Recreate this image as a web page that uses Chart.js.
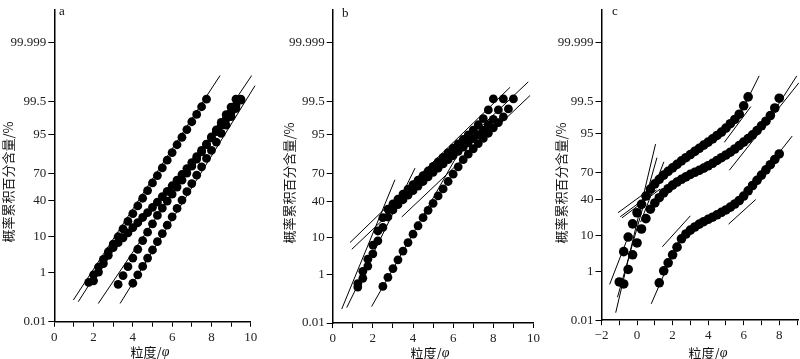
<!DOCTYPE html>
<html>
<head>
<meta charset="utf-8">
<script src="https://cdn.jsdelivr.net/npm/chart.js@4.4.0/dist/chart.umd.min.js"></script>
<style>
  body { margin: 0; background: #fff; width: 800px; height: 359px; position: relative; overflow: hidden; }
  canvas { position: absolute; top: 0; }
</style>
</head>
<body>
<canvas id="ca" width="265" height="359" style="left:0"></canvas>
<canvas id="cb" width="285" height="359" style="left:265px"></canvas>
<canvas id="cc" width="270" height="359" style="left:530px"></canvas>
<script>
// y axis ticks (cumulative %), probability scale
const yTicks = [0.01, 1, 10, 40, 70, 95, 99.5, 99.999];
const yTitle = '概率累积百分含量/%';
const xTitle = ['粒度/', 'φ'];

// panel a
const aPhi1 = [1.75,2,2.25,2.5,2.75,3,3.25,3.5,3.75,4,4.25,4.5,4.75,5,5.25,5.5,5.75,6,6.25,6.5,6.75,7,7.25,7.5,7.75];
const aPct1 = [0.47,0.87,1.55,2.63,4.28,6.68,9.86,14.3,19.8,26.5,34.1,42.5,51.2,59.9,67.7,75.2,81.6,86.8,91.0,94.0,96.2,97.72,98.64,99.24,99.59];
const aPhi2 = [2,2.25,2.5,2.75,3,3.25,3.5,3.75,4,4.25,4.5,4.75,5,5.25,5.5,5.75,6,6.25,6.5,6.75,7,7.25,7.5,7.75,8,8.25,8.5,8.75,9,9.25,9.5];
const aPct2 = [0.54,1.07,1.98,3.44,5.48,7.24,9.36,11.9,15.2,18.7,23.0,27.4,32.7,38.2,44.4,50.4,56.7,62.9,68.8,74.5,79.6,84.1,88.1,91.3,93.8,95.7,97.13,98.11,98.83,99.30,99.59];
const aPhi3 = [3.25,3.5,3.75,4,4.25,4.5,4.75,5,5.25,5.5,5.75,6,6.25,6.5,6.75,7,7.25,7.5,7.75,8,8.25,8.5,8.75,9,9.25];
const aPct3 = [0.40,0.82,1.59,2.87,4.97,8.08,12.3,17.9,24.8,31.9,39.4,47.2,55.2,62.9,70.2,76.7,82.4,87.3,91.1,94.1,96.15,97.61,98.61,99.22,99.59];
const aPhi4 = [4,4.25,4.5,4.75,5,5.25,5.5,5.75,6,6.25,6.5,6.75,7,7.25,7.5,7.75,8,8.25,8.5,8.75,9,9.25,9.5];
const aPct4 = [0.44,0.87,1.63,2.87,4.76,7.64,11.5,16.9,23.6,31.6,40.5,50.0,59.1,68.1,76.1,82.9,88.1,92.2,95.2,97.13,98.4,99.13,99.56];
// fitted segments: [phi1, pct1, phi2, pct2]
const aFits = [
  [0.97, 0.097, 8.44, 99.955],
  [1.22, 0.082, 3.6, 14.7],
  [2.24, 0.069, 10.05, 99.955],
  [3.35, 0.069, 10.22, 99.878]
];

// panel b
const bPhi1 = [1.25,1.5,1.75,2,2.25,2.5,2.75,3,3.25,3.5,3.75,4,4.25,4.5,4.75,5,5.25,5.5,5.75,6,6.25,6.5,6.75,7,7.25,7.5,7.75,8];
const bPct1 = [0.47,1.23,2.87,6.68,13.6,23.6,31.6,37.1,42.5,48.0,53.6,58.7,63.7,68.4,72.9,77.0,80.8,84.1,87.1,89.6,91.6,93.4,94.9,96.2,97.3,98.21,99.06,99.61];
const bPhi2 = [1.25,1.5,1.75,2,2.25,2.5,2.75,3,3.25,3.5,3.75,4,4.25,4.5,4.75,5,5.25,5.5,5.75,6,6.25,6.5,6.75,7,7.25,7.5,7.75,8,8.25,8.5];
const bPct2 = [0.35,0.72,1.79,4.01,8.4,15.9,24.2,30.9,36.3,41.7,46.8,52.0,57.1,62.2,67.0,71.6,75.5,79.1,82.4,85.3,87.9,90.1,92.1,93.7,95.0,96.2,97.3,98.11,99.06,99.61];
const bPhi3 = [2.5,2.75,3,3.25,3.5,3.75,4,4.25,4.5,4.75,5,5.25,5.5,5.75,6,6.25,6.5,6.75,7,7.25,7.5,7.75,8,8.25,8.5,8.75,9];
const bPct3 = [0.37,0.78,1.50,2.74,4.75,7.64,11.7,17.1,23.6,30.5,37.8,46.0,54.0,62.2,69.8,76.7,82.4,86.2,89.3,91.8,93.8,95.4,96.7,97.67,98.42,99.13,99.61];
const bFits = [
  [0.45, 0.045, 3.10, 64.1],
  [0.70, 0.052, 4.10, 75.5],
  [0.86, 7.64, 8.83, 99.861],
  [0.95, 5.26, 9.74, 99.918],
  [3.44, 24.2, 9.83, 99.711],
  [1.94, 0.058, 6.1, 82.9]
];

// panel c
const cPhi1 = [-1,-0.75,-0.5,-0.25,0,0.25,0.5,0.75,1,1.25,1.5,1.75,2,2.25,2.5,2.75,3,3.25,3.5,3.75,4,4.25,4.5,4.75,5,5.25,5.5,5.75,6,6.25];
const cPct1 = [0.44,4.01,9.18,17.1,26.4,34.8,44.0,52.0,57.9,62.9,67.4,71.2,74.5,77.6,80.5,82.9,85.1,87.1,88.9,90.5,91.9,93.2,94.4,95.4,96.4,97.3,97.98,98.61,99.27,99.65];
const cPhi2 = [-0.75,-0.5,-0.25,0,0.25,0.5,0.75,1,1.25,1.5,1.75,2,2.25,2.5,2.75,3,3.25,3.5,3.75,4,4.25,4.5,4.75,5,5.25,5.5,5.75,6,6.25,6.5,6.75,7,7.25,7.5,7.75,8];
const cPct2 = [0.37,1.19,3.29,6.68,13.6,21.2,29.8,36.3,42.1,47.6,52.4,56.4,59.9,62.9,65.5,68.1,70.2,72.2,74.2,76.4,78.5,80.8,82.9,84.8,86.6,88.5,90.3,91.9,93.3,94.6,95.8,96.9,97.72,98.46,99.13,99.61];
const cPhi3 = [1.25,1.5,1.75,2,2.25,2.5,2.75,3,3.25,3.5,3.75,4,4.25,4.5,4.75,5,5.25,5.5,5.75,6,6.25,6.5,6.75,7,7.25,7.5,7.75,8];
const cPct3 = [0.41,1.07,1.92,3.29,5.26,8.38,10.7,12.9,14.9,16.9,18.7,20.6,22.4,24.5,26.8,29.1,31.9,35.2,39.0,44.0,50.0,56.0,61.8,67.4,72.6,77.3,81.6,85.5];
const cFits = [
  [-1.54, 0.357, -0.6, 7.35],
  [-1.2, 0.023, 1.04, 91.0],
  [-1.1, 0.111, 1.12, 82.9],
  [0.2, 18.4, 1.51, 79.7],
  [-1.07, 26.4, 0.75, 52.0],
  [-0.95, 22.7, 1.1, 51.0],
  [-0.85, 21.8, 1.3, 52.0],
  [5.8, 98.61, 6.87, 99.952],
  [4.91, 91.8, 6.4, 99.22],
  [7.6, 98.61, 8.99, 99.952],
  [5.19, 72.2, 9.1, 99.903],
  [0.8, 0.058, 2.5, 10.6],
  [1.42, 5.37, 3.0, 23.6],
  [5.15, 16.9, 6.68, 40.1],
  [6.0, 42.1, 8.73, 94.2]
];

// inverse normal cdf (Acklam), percent -> probit
function probit(pct) {
  const p = pct / 100;
  const a = [-39.69683028665376, 220.9460984245205, -275.9285104469687, 138.3577518672690, -30.66479806614716, 2.506628277459239];
  const b = [-54.47609879822406, 161.5858368580409, -155.6989798598866, 66.80131188771972, -13.28068155288572];
  const c = [-0.007784894002430293, -0.3223964580411365, -2.400758277161838, -2.549732539343734, 4.374664141464968, 2.938163982698783];
  const d = [0.007784695709041462, 0.3224671290700398, 2.445134137142996, 3.754408661907416];
  const plow = 0.02425;
  let q, r;
  if (p < plow) {
    q = Math.sqrt(-2 * Math.log(p));
    return (((((c[0]*q+c[1])*q+c[2])*q+c[3])*q+c[4])*q+c[5]) / ((((d[0]*q+d[1])*q+d[2])*q+d[3])*q+1);
  }
  if (p > 1 - plow) {
    q = Math.sqrt(-2 * Math.log(1 - p));
    return -(((((c[0]*q+c[1])*q+c[2])*q+c[3])*q+c[4])*q+c[5]) / ((((d[0]*q+d[1])*q+d[2])*q+d[3])*q+1);
  }
  q = p - 0.5; r = q * q;
  return (((((a[0]*r+a[1])*r+a[2])*r+a[3])*r+a[4])*r+a[5])*q / (((((b[0]*r+b[1])*r+b[2])*r+b[3])*r+b[4])*r+1);
}

const serif = '"Liberation Serif", "DejaVu Serif", serif';
const cjk = '"Noto Sans CJK SC", sans-serif';

// titles and panel letter, drawn in canvas coords
const textPlugin = {
  id: 'panelText',
  afterDraw(chart, args, o) {
    const ctx = chart.ctx;
    ctx.save();
    ctx.fillStyle = '#111';
    ctx.textBaseline = 'middle';
    ctx.textAlign = 'center';
    ctx.font = '13px ' + cjk;
    ctx.save();
    ctx.translate(o.yTitle[0], o.yTitle[1]);
    ctx.rotate(-Math.PI / 2);
    ctx.fillText(yTitle, 0, 0);
    ctx.restore();

    // x title: CJK part + italic phi
    ctx.textAlign = 'left';
    ctx.font = '13px ' + cjk;
    const w1 = ctx.measureText(xTitle[0]).width;
    ctx.font = 'italic 14px ' + serif;
    const w2 = ctx.measureText(xTitle[1]).width;
    const x0 = o.xTitle[0] - (w1 + w2) / 2;
    ctx.font = '13px ' + cjk;
    ctx.fillText(xTitle[0], x0, o.xTitle[1]);
    ctx.font = 'italic 14px ' + serif;
    ctx.fillText(xTitle[1], x0 + w1, o.xTitle[1]);

    ctx.font = '13px ' + serif;
    ctx.fillText(o.letter, o.letterPos[0], o.letterPos[1]);
    ctx.restore();
  }
};

function makePanel(id, series, fits, box) {
  const datasets = [];
  series.forEach(([phi, pct]) => {
    datasets.push({
      data: phi.map((x, i) => ({ x: x, y: probit(pct[i]) })),
      showLine: false,
      pointRadius: box.dot,
      pointBackgroundColor: '#000',
      pointBorderWidth: 0,
      order: 0
    });
  });
  fits.forEach(f => {
    datasets.push({
      data: [{ x: f[0], y: probit(f[1]) }, { x: f[2], y: probit(f[3]) }],
      showLine: true,
      borderColor: '#000',
      borderWidth: 1,
      pointRadius: 0,
      clip: false,
      order: 1
    });
  });

  new Chart(document.getElementById(id), {
    type: 'scatter',
    data: { datasets: datasets },
    plugins: [textPlugin],
    options: {
      responsive: false,
      animation: false,
      devicePixelRatio: 1,
      layout: { autoPadding: false, padding: { top: box.top, right: box.right, left: 0, bottom: 0 } },
      plugins: {
        legend: { display: false },
        tooltip: { enabled: false },
        panelText: { yTitle: box.yTitle, xTitle: box.xTitle, letter: box.letter, letterPos: box.letterPos }
      },
      scales: {
        x: {
          type: 'linear',
          min: box.xMin,
          max: box.xMax,
          afterFit: s => { s.height = box.xAxisH; },
          border: { display: true, color: '#000', width: 1.5 },
          grid: { drawOnChartArea: false, drawTicks: true, tickLength: 5, color: '#000' },
          ticks: {
            stepSize: 1,
            autoSkip: false,
            includeBounds: false,
            maxRotation: 0,
            padding: 3,
            color: '#222',
            font: { family: serif, size: 13 },
            callback: v => (Math.abs(v % 2) < 1e-9 ? String(v).replace('-', '−') : '')
          }
        },
        y: {
          type: 'linear',
          min: probit(yTicks[0]),
          max: 5.2,
          afterFit: s => { s.width = box.yAxisW; },
          afterBuildTicks: s => { s.ticks = yTicks.map(p => ({ value: probit(p) })); },
          border: { display: true, color: '#000', width: 1.5 },
          grid: { drawOnChartArea: false, drawTicks: true, tickLength: 6, color: '#000' },
          ticks: {
            padding: 2,
            color: '#222',
            font: { family: serif, size: 13 },
            callback: (v, i) => String(yTicks[i])
          }
        }
      }
    }
  });
}

makePanel('ca', [[aPhi1, aPct1], [aPhi2, aPct2], [aPhi3, aPct3], [aPhi4, aPct4]], aFits,
  { xMin: 0, xMax: 10, top: 7, right: 14.3, yAxisW: 54.3, xAxisH: 37.3, dot: 4.4,
    yTitle: [8, 182], xTitle: [150, 352], letter: 'a', letterPos: [59, 12] });

makePanel('cb', [[bPhi1, bPct1], [bPhi2, bPct2], [bPhi3, bPct3]], bFits,
  { xMin: 0, xMax: 10, top: 1, right: 16.5, yAxisW: 67.7, xAxisH: 36, dot: 4.4,
    yTitle: [24, 183], xTitle: [165, 353], letter: 'b', letterPos: [77, 14] });

makePanel('cc', [[cPhi1, cPct1], [cPhi2, cPct2], [cPhi3, cPct3]], cFits,
  { xMin: -2, xMax: 9.1, top: 3, right: 0, yAxisW: 71.5, xAxisH: 38.8, dot: 4.8,
    yTitle: [31, 183], xTitle: [178, 353], letter: 'c', letterPos: [82, 12] });
</script>
</body>
</html>
